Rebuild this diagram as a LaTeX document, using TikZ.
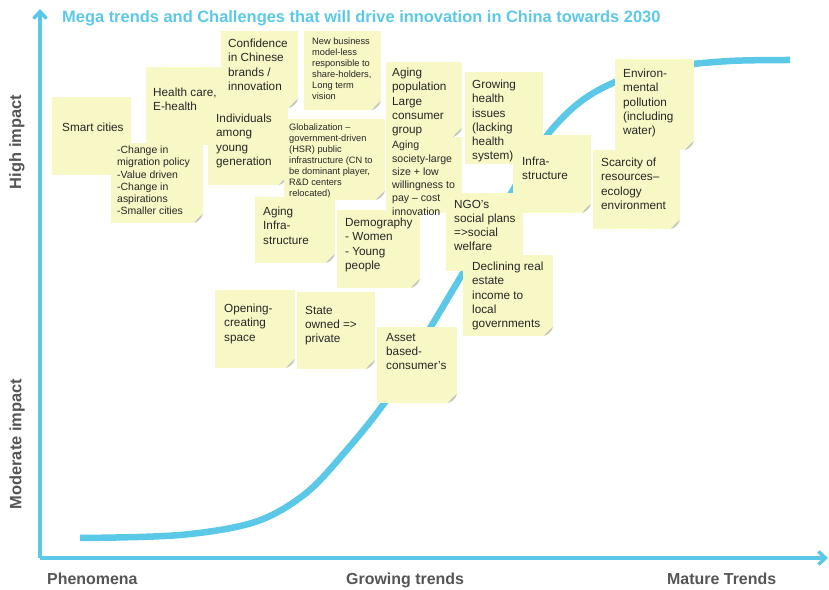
\documentclass[tikz,border=0pt]{standalone}
\usepackage{fontspec}
\setmainfont{Liberation Sans}
\usetikzlibrary{arrows.meta,calc}
\definecolor{sky}{HTML}{5CC8E8}
\definecolor{stick}{HTML}{F8F8C6}
\definecolor{lab}{HTML}{555555}
\definecolor{fold}{HTML}{C8C8C0}
\tikzset{
  note/.style={fill=stick, draw=none, anchor=north west, inner sep=0pt, outer sep=0pt,
    path picture={
      \coordinate (pp) at (path picture bounding box.south east);
      \fill[white] ([xshift=-9bp]pp) -- (pp) -- ([yshift=9bp]pp) -- cycle;
      \fill[fold] ([xshift=-9bp]pp) .. controls ([xshift=-5bp,yshift=1bp]pp) and ([xshift=-1bp,yshift=5bp]pp) .. ([yshift=9bp]pp)
        .. controls ([xshift=-4bp,yshift=6bp]pp) and ([xshift=-6bp,yshift=4bp]pp) .. cycle;
    }},
  txt/.style={anchor=north west, inner sep=0pt, align=left, text=black!85,
    font=\fontsize{11.8}{14.2}\selectfont},
  txtmid/.style={txt, font=\fontsize{10.5}{12.2}\selectfont},
  txtsoc/.style={txt, font=\fontsize{10.6}{13.3}\selectfont},
  txtsmall/.style={txt, font=\fontsize{9.3}{11}\selectfont},
  axis/.style={sky, line width=3.5bp},
  axlab/.style={text=lab, font=\bfseries\fontsize{16}{18}\selectfont, anchor=base west, inner sep=0pt},
  ylab/.style={text=lab, font=\bfseries\fontsize{16.5}{19}\selectfont, rotate=90, inner sep=0pt},
}
\newcommand\stickynote[5]{\path (#2,#3) node[note, minimum width={(#4-#2)*1bp}, minimum height={(#5-#3)*1bp}] (#1) {};}
\begin{document}
\begin{tikzpicture}[x=1bp,y=-1bp]
\useasboundingbox (0,0) rectangle (829,590);
% axes
\coordinate (origin) at (40,558);
\coordinate (ytop) at (40,9);
\coordinate (xend) at (828,558);
\draw[axis, -{Straight Barb[length=7bp,width=13bp]}] (origin) -- (ytop);
\draw[axis, -{Straight Barb[length=7bp,width=13bp]}] (origin) -- (xend);
% title and axis labels
\node[anchor=base west, inner sep=0pt, text=sky, font=\bfseries\fontsize{16.5}{19}\selectfont] (title) at (62,23)
  {Mega trends and Challenges that will drive innovation in China towards 2030};
\node[ylab] (high) at (17,142) {High impact};
\node[ylab] (moder) at (17,444) {Moderate impact};
\node[axlab] (phen) at (47,584) {Phenomena};
\node[axlab] (grow) at (346,584) {Growing trends};
\node[axlab] (mat) at (667,584) {Mature Trends};
% S-curve
\draw[sky, line width=6.5bp] plot[smooth, tension=0.55] coordinates {
 (80,538) (180,535) (255,522) (305,494) (345,452) (385,402) (420,345) (460,278)
 (510,195) (545,138) (580,102) (620,80) (670,67) (730,61) (790,60)};
% notes
\stickynote{smart}{52}{97}{131}{175}
\node[txt] (smart-t) at (62,123) {Smart cities};
\stickynote{health}{146}{67}{222}{145}
\node[txt] (health-t) at (153,88) {Health care,\\E-health};
\stickynote{change}{111}{143}{203}{223}
\node[txtmid] (change-t) at (117,146) {-Change in\\migration policy\\-Value driven\\-Change in\\aspirations\\-Smaller cities};
\stickynote{conf}{221}{31}{298}{108}
\node[txt] (conf-t) at (228,39) {Confidence\\in Chinese\\brands /\\innovation};
\stickynote{newbiz}{304}{31}{381}{110}
\node[txtsmall] (newbiz-t) at (312,38) {New business\\model-less\\responsible to\\share-holders,\\Long term\\vision};
\stickynote{indiv}{208}{108}{288}{185}
\node[txt] (indiv-t) at (216,114) {Individuals\\among\\young\\generation};
\stickynote{glob}{284}{119}{385}{200}
\node[txtsmall] (glob-t) at (289,124) {Globalization --\\government-driven\\(HSR) public\\infrastructure (CN to\\be dominant player,\\R\&D centers\\relocated)};
\stickynote{demog}{337}{210}{420}{288}
\node[txt] (demog-t) at (345,218) {Demography\\- Women\\- Young\\people};
\stickynote{agpop}{386}{62}{462}{137}
\node[txt] (agpop-t) at (392,68) {Aging\\population\\Large\\consumer\\group};
\stickynote{agsoc}{386}{137}{462}{213}
\node[txtsoc] (agsoc-t) at (392,141) {Aging\\society-large\\size + low\\willingness to\\pay -- cost\\innovation};
\stickynote{growing}{465}{72}{543}{164}
\node[txt] (growing-t) at (472,80) {Growing\\health\\issues\\(lacking\\health\\system)};
\stickynote{infra}{513}{135}{591}{213}
\node[txt] (infra-t) at (522,157) {Infra-\\structure};
\stickynote{env}{615}{59}{694}{150}
\node[txt] (env-t) at (623,69) {Environ-\\mental\\pollution\\(including\\water)};
\stickynote{scarc}{593}{150}{680}{229}
\node[txt] (scarc-t) at (601,158) {Scarcity of\\resources--\\ecology\\environment};
\stickynote{aginf}{255}{197}{335}{263}
\node[txt] (aginf-t) at (263,207) {Aging\\Infra-\\structure};
\stickynote{ngo}{446}{193}{523}{271}
\node[txt] (ngo-t) at (454,200) {NGO's\\social plans\\=>social\\welfare};
\stickynote{decl}{463}{255}{553}{336}
\node[txt] (decl-t) at (472,262) {Declining real\\estate\\income to\\local\\governments};
\stickynote{open}{215}{290}{295}{368}
\node[txt] (open-t) at (224,304) {Opening-\\creating\\space};
\stickynote{state}{297}{292}{375}{369}
\node[txt] (state-t) at (305,306) {State\\owned =>\\private};
\stickynote{asset}{377}{327}{457}{403}
\node[txt] (asset-t) at (386,333) {Asset\\based-\\consumer's};
\end{tikzpicture}
\end{document}
